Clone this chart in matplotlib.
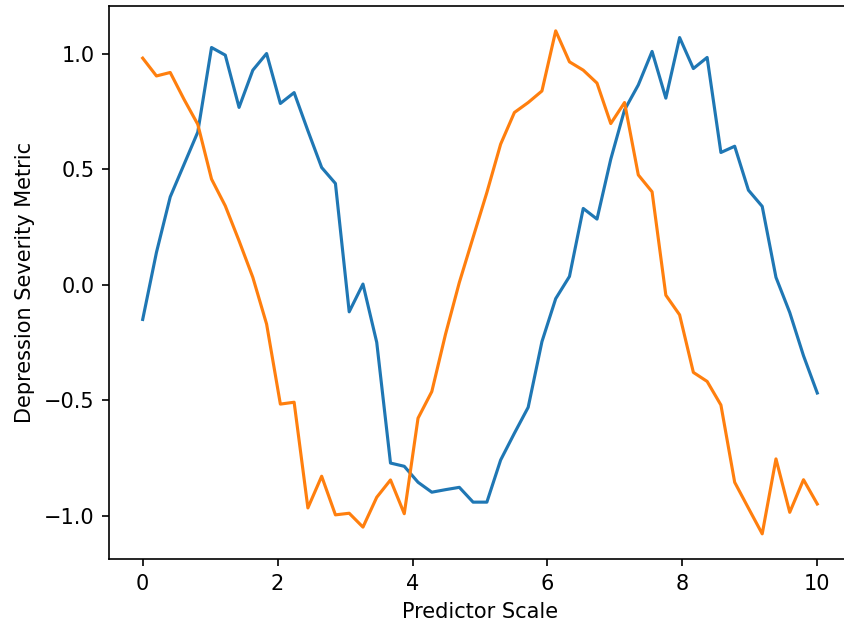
import matplotlib
matplotlib.use("Agg")
import matplotlib.pyplot as plt
import numpy as np

x = np.linspace(0, 10, 50)

series_a = [
    -0.15, 0.14, 0.38, 0.52, 0.66, 1.026, 0.993, 0.767, 0.928, 1.0,
    0.784, 0.831, 0.666, 0.507, 0.438, -0.117, 0.003, -0.249, -0.771, -0.785,
    -0.854, -0.897, -0.886, -0.876, -0.940, -0.940, -0.758, -0.642, -0.530, -0.246,
    -0.06, 0.036, 0.330, 0.284, 0.543, 0.756, 0.864, 1.009, 0.807, 1.069,
    0.935, 0.983, 0.572, 0.599, 0.409, 0.339, 0.032, -0.12, -0.307, -0.468,
]

series_b = [
    0.980, 0.903, 0.918, 0.802, 0.694, 0.457, 0.341, 0.190, 0.032, -0.170,
    -0.516, -0.508, -0.965, -0.828, -0.995, -0.988, -1.048, -0.919, -0.844, -0.990,
    -0.577, -0.462, -0.213, 0.010, 0.205, 0.399, 0.608, 0.745, 0.788, 0.838,
    1.098, 0.964, 0.928, 0.872, 0.697, 0.788, 0.475, 0.402, -0.045, -0.130,
    -0.379, -0.418, -0.520, -0.854, -0.966, -1.077, -0.753, -0.984, -0.843, -0.948,
]

dpi = 150
fig, ax = plt.subplots(figsize=(844 / dpi, 627 / dpi), dpi=dpi)
# the reference is cropped on the right, the axes run past the edge
fig.subplots_adjust(left=0.1291, right=1.0083, top=0.9909, bottom=0.1085)

ax.plot(x, series_a)
ax.plot(x, series_b)

ax.set_xlabel("Predictor Scale")
ax.set_ylabel("Depression Severity Metric")

fig.savefig("out.png", dpi=dpi)
